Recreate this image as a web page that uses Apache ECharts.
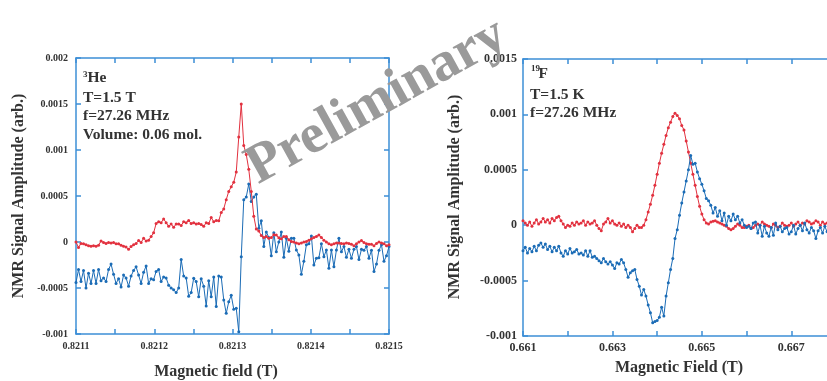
<!DOCTYPE html>
<html>
<head>
<meta charset="utf-8">
<script src="https://cdn.jsdelivr.net/npm/echarts@6/dist/echarts.min.js"></script>
<style>
  html, body { margin: 0; padding: 0; background: #fff; }
  #chart { width: 827px; height: 381px; }
</style>
</head>
<body>
<div id="chart"></div>
<script>
// ---- 3He sweep (left panel); signal values in units of 1e-4 (arb.) ----
const heFieldStart = 0.8211;     // T
const heFieldStep = 0.0000032;   // T per sweep point
const heSignalRed = [
  0.0, -0.6, -0.15, -0.2, -0.3, -0.4, -0.45, -0.4, -0.45, -0.35,
  0.1, -0.05, -0.15, -0.05, -0.1, -0.05, -0.2, -0.2, -0.35, -0.45,
  -0.55, -0.8, -0.5, -0.3, -0.15, 0.15, -0.05, 0.4, 0.1, 0.2,
  0.6, 1.0, 2.0, 2.2, 2.1, 2.5, 2.1, 1.7, 1.95, 1.6,
  1.95, 1.95, 1.8, 2.2, 2.1, 2.35, 2.0, 2.1, 1.95, 2.0,
  1.9, 1.7, 2.1, 2.0, 2.65, 2.2, 2.35, 2.3, 3.2, 3.6,
  4.6, 5.5, 6.0, 6.5, 7.6, 11.4, 15.0, 10.5, 9.5, 7.9,
  5.5, 2.8, 1.4, 1.2, 0.7, 0.5, 0.6, 0.4, 0.5, 0.8,
  0.75, 0.45, 0.35, 0.6, 0.6, 0.25, 0.05, 0.0, -0.1, -0.2,
  -0.1, 0.0, 0.05, 0.2, 0.35, 0.5, 0.6, 0.75, 0.5, 0.2,
  0.0, -0.2, -0.3, -0.2, -0.1, -0.1, -0.15, -0.2, -0.1, -0.15,
  -0.25, -0.4, -0.2, 0.0, 0.15, -0.05, -0.2, -0.25, -0.25, -0.4,
  -0.15, 0.0, -0.1, -0.2, -0.4, -0.3
];
const heSignalBlue = [
  -4.4, -3.0, -4.3, -3.1, -5.0, -3.4, -4.5, -3.1, -4.5, -3.0,
  -4.2, -3.9, -4.3, -3.0, -2.4, -3.5, -4.5, -4.0, -4.9, -3.6,
  -3.9, -4.8, -3.7, -3.1, -2.7, -3.6, -4.5, -3.3, -2.6, -4.5,
  -4.0, -4.1, -3.2, -3.0, -4.3, -3.8, -3.9, -4.7, -5.0, -5.2,
  -5.5, -5.0, -1.9, -3.7, -3.9, -5.9, -5.5, -3.95, -4.3, -5.95,
  -4.0, -4.8, -6.96, -4.2, -5.95, -3.8, -7.0, -3.7, -3.8, -6.3,
  -7.75, -6.5, -5.8, -7.3, -7.2, -9.75, -1.6, 4.6, 4.9, 6.3,
  4.4, 4.9, 5.2, 1.5, 2.3, -0.5, 1.1, 0.5, -1.5, 1.0,
  -1.05, 0.0, 1.1, -1.66, 0.4, -1.0, 0.4, 0.4, -0.87, -1.4,
  -3.5, -2.1, -0.3, -0.2, 0.65, -2.5, -1.77, -1.7, -0.2, -1.6,
  -0.87, -2.86, -0.87, -2.7, -0.87, 0.4, -1.05, -0.5, -1.66, -0.8,
  -1.77, -0.8, -0.5, -1.9, -0.8, -0.9, -0.5, -1.77, -0.9, -3.2,
  -2.4, -0.9, -0.3, -2.1, -1.5, -0.5
];
const heFieldLabels = ['0.8211', '0.8212', '0.8213', '0.8214', '0.8215'];
const heSignalLabels = ['0.002', '0.0015', '0.001', '0.0005', '0', '-0.0005', '-0.001'];

// ---- 19F sweep (right panel); signal values in units of 1e-4 (arb.) ----
const fFieldStart = 0.661;       // T
const fFieldStep = 0.00005;      // T per sweep point
const fSignalRed = [
  0.4, 0.2, 0.0, 0.3, -0.1, 0.2, 0.5, 0.1, 0.3, 0.6,
  0.3, 0.5, 0.2, 0.6, 0.4, 0.7, 0.8, 0.4, 0.1, -0.2,
  0.0, -0.1, 0.2, 0.0, 0.3, 0.1, 0.2, 0.4, 0.0, 0.3,
  0.1, 0.2, 0.4, 0.0, -0.3, -0.5, 0.1, 0.3, 0.6, 0.2,
  0.4, 0.1, 0.0, 0.2, -0.1, 0.1, -0.2, 0.0, -0.2, -0.6,
  -0.3, 0.0, -0.2, -0.2, 0.0, 0.5, 1.2, 1.9, 2.7, 3.6,
  4.6, 5.6, 6.5, 7.3, 8.1, 8.8, 9.3, 9.8, 10.1, 9.9,
  9.6, 9.0, 8.6, 7.6, 6.6, 5.6, 4.6, 3.6, 2.6, 1.7,
  1.0, 0.5, 0.2, 0.1, 0.3, 0.35, 0.4, 0.3, 0.2, 0.1,
  0.0, -0.1, -0.3, -0.4, -0.3, -0.1, 0.1, 0.0, -0.2, -0.2,
  -0.1, 0.0, -0.3, -0.2, 0.0, 0.1, 0.0, 0.3, 0.1, 0.0,
  -0.1, -0.2, 0.1, 0.0, -0.2, -0.1, 0.2, 0.0, -0.1, 0.0,
  0.2, -0.1, 0.1, 0.3, 0.0, 0.2, 0.1, 0.4, 0.3, 0.1,
  0.2, 0.4, 0.3, 0.0, 0.3, 0.1, 0.2
];
const fSignalBlue = [
  -2.3, -2.0, -2.5, -2.1, -2.4, -1.9, -2.3, -1.8, -1.6, -2.0,
  -1.7, -2.2, -1.9, -2.4, -2.0, -2.3, -1.9, -2.5, -2.8, -2.3,
  -2.6, -2.1, -2.5, -2.4, -2.2, -2.6, -2.5, -2.7, -2.3, -2.8,
  -2.3, -2.9, -2.8, -3.0, -3.2, -3.4, -3.0, -3.3, -3.5, -3.3,
  -3.6, -3.9, -3.4, -3.5, -3.1, -3.4, -4.0, -4.7, -4.3, -4.1,
  -4.0, -4.9, -5.5, -6.3, -5.8, -6.4, -7.2, -7.9, -8.8, -8.7,
  -8.6, -8.3, -7.4, -8.2, -6.4, -5.2, -4.0, -3.0, -1.2, -0.4,
  0.9, 2.0, 3.0, 4.0, 5.0, 6.3, 5.5, 5.6, 4.8, 4.2,
  3.7, 3.1, 2.4, 2.2, 1.8, 1.1, 1.6, 0.8, 1.3, 0.4,
  1.1, 0.0, 0.8, 0.4, 1.0, 0.5, 0.8, 0.2, 0.5, 0.0,
  -0.2, -0.1, -0.3, 0.2, 0.3, -0.7, 0.0, -1.0, -0.1, -0.7,
  -1.0, -0.2, -0.9, 0.2, -0.4, -0.1, -0.6, -0.3, -0.2, -0.8,
  -0.6, 0.0, -0.8, -0.3, 0.0, -0.5, 0.2, -0.4, -0.7, -0.2,
  -0.5, -1.2, -0.5, -0.2, -0.7, -0.1, -0.6
];
const fFieldLabels = ['0.661', '0.663', '0.665', '0.667'];
const fSignalLabels = ['0.0015', '0.001', '0.0005', '0', '-0.0005', '-0.001'];

const SIGNAL_UNIT = 1e-4;
const RED = '#e2313f';
const BLUE = '#1b6cb6';
const AXIS_BLUE = '#3d8fd6';
const TEXT = '#333333';
const SERIF = '"Liberation Serif", "Times New Roman", serif';

// Pair each sweep field value with its signal reading.
function sweep(start, step, values) {
  return values.map((v, i) => [start + step * i, v * SIGNAL_UNIT]);
}

// Show a tick label only when the tick value appears in the label list.
function listFormatter(labels, digits) {
  return function (v) {
    const s = String(+(+v).toFixed(digits));
    return labels.indexOf(s) >= 0 ? s : '';
  };
}

function frameAxis(extra, showLabels, labelCfg) {
  return Object.assign({
    type: 'value',
    scale: true,
    axisLine: { show: true, onZero: false, lineStyle: { color: AXIS_BLUE, width: 1.5 } },
    axisTick: { show: true, inside: true, length: 5, lineStyle: { color: AXIS_BLUE, width: 1.5 } },
    splitLine: { show: false },
    axisLabel: showLabels
      ? Object.assign({ fontFamily: SERIF, fontWeight: 'bold', color: TEXT, hideOverlap: false }, labelCfg)
      : { show: false }
  }, extra);
}

function lineSeries(data, color, xi, yi, z) {
  return {
    type: 'line',
    data: data,
    xAxisIndex: xi,
    yAxisIndex: yi,
    z: z,
    symbol: 'circle',
    symbolSize: 3,
    showAllSymbol: true,
    clip: true,
    lineStyle: { color: color, width: 1 },
    itemStyle: { color: color },
    animation: false
  };
}

const chart = echarts.init(document.getElementById('chart'), null, { renderer: 'canvas' });

const heX = { gridIndex: 0, min: 0.8211, max: 0.8215, interval: 0.00005 };
const heY = { gridIndex: 0, min: -0.001, max: 0.002, interval: 0.0005 };
const fX = { gridIndex: 1, min: 0.661, max: 0.668, interval: 0.001 };
const fY = { gridIndex: 1, min: -0.001, max: 0.0015, interval: 0.0005 };

function txt(x, y, text, size, extra) {
  return Object.assign({
    type: 'text',
    x: x,
    y: y,
    z: 50,
    style: Object.assign({
      text: text,
      fill: TEXT,
      font: 'bold ' + size + 'px ' + SERIF,
      textAlign: 'left',
      textVerticalAlign: 'middle'
    }, extra && extra.style)
  }, extra && extra.el);
}

chart.setOption({
  backgroundColor: '#ffffff',
  animation: false,
  grid: [
    { left: 76, top: 58, width: 313, height: 276, outerBoundsMode: 'none', containLabel: false },
    { left: 523, top: 59, width: 313, height: 277, outerBoundsMode: 'none', containLabel: false }
  ],
  xAxis: [
    frameAxis(Object.assign({ position: 'bottom' }, heX), true,
      { fontSize: 10, margin: 7, formatter: listFormatter(heFieldLabels, 5) }),
    frameAxis(Object.assign({ position: 'top' }, heX), false),
    frameAxis(Object.assign({ position: 'bottom' }, fX), true,
      { fontSize: 12, margin: 6, formatter: listFormatter(fFieldLabels, 4) }),
    frameAxis(Object.assign({ position: 'top' }, fX), false)
  ],
  yAxis: [
    frameAxis(Object.assign({ position: 'left' }, heY), true,
      { fontSize: 10, margin: 8, formatter: listFormatter(heSignalLabels, 5) }),
    frameAxis(Object.assign({ position: 'right' }, heY), false),
    frameAxis(Object.assign({ position: 'left' }, fY), true,
      { fontSize: 12, margin: 6, formatter: listFormatter(fSignalLabels, 5) }),
    frameAxis(Object.assign({ position: 'right' }, fY), false)
  ],
  series: [
    lineSeries(sweep(heFieldStart, heFieldStep, heSignalBlue), BLUE, 0, 0, 2),
    lineSeries(sweep(heFieldStart, heFieldStep, heSignalRed), RED, 0, 0, 3),
    lineSeries(sweep(fFieldStart, fFieldStep, fSignalRed), RED, 2, 2, 2),
    lineSeries(sweep(fFieldStart, fFieldStep, fSignalBlue), BLUE, 2, 2, 3)
  ],
  graphic: [
    // axis titles
    txt(216, 372, 'Magnetic field (T)', 16, { style: { textAlign: 'center' } }),
    txt(679, 368, 'Magnetic Field (T)', 16, { style: { textAlign: 'center' } }),
    txt(19, 196, 'NMR Signal Amplitude (arb.)', 16,
      { style: { textAlign: 'center' }, el: { rotation: Math.PI / 2 } }),
    txt(455, 197, 'NMR Signal Amplitude (arb.)', 16,
      { style: { textAlign: 'center' }, el: { rotation: Math.PI / 2 } }),
    // 3He run conditions
    txt(83, 75, '3', 9),
    txt(87.5, 78, 'He', 15.5),
    txt(83, 98, 'T=1.5 T', 15.5),
    txt(83, 116, 'f=27.26 MHz', 15.5),
    txt(83, 134.5, 'Volume: 0.06 mol.', 15.5),
    // 19F run conditions
    txt(531, 69, '19', 9),
    txt(538.5, 73.5, 'F', 15.5),
    txt(530, 95, 'T=1.5 K', 15.5),
    txt(530, 113, 'f=27.26 MHz', 15.5),
    // draft stamp
    {
      type: 'text',
      x: 377,
      y: 102,
      z: 100,
      rotation: 29 * Math.PI / 180,
      style: {
        text: 'Preliminary',
        fill: '#9a9a9a',
        font: 'bold 56px ' + SERIF,
        textAlign: 'center',
        textVerticalAlign: 'middle'
      }
    }
  ]
});
</script>
</body>
</html>
